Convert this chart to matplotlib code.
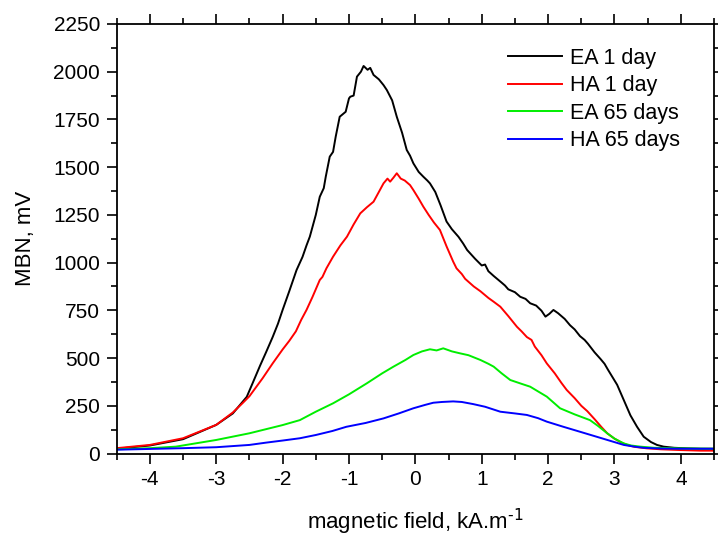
import matplotlib
matplotlib.use("Agg")
import matplotlib.pyplot as plt
from matplotlib.ticker import MultipleLocator

plt.rcParams['font.family'] = ['Liberation Sans', 'DejaVu Sans']
plt.rcParams['axes.unicode_minus'] = False

# EA 1 day
x_ea1 = [-4.5, -4.0, -3.5, -3.0, -2.75, -2.54, -2.45, -2.34, -2.25, -2.15, -2.07, -2.0,
         -1.9, -1.79, -1.7, -1.64, -1.59, -1.5, -1.44, -1.38, -1.35, -1.29, -1.24, -1.2,
         -1.14, -1.05, -1.0, -0.98, -0.93, -0.88, -0.82, -0.78, -0.72, -0.68, -0.63,
         -0.55, -0.48, -0.43, -0.35, -0.28, -0.2, -0.13, -0.08, -0.03, 0.05, 0.12, 0.18,
         0.22, 0.3, 0.38, 0.47, 0.55, 0.65, 0.72, 0.78, 0.9, 1.0, 1.05, 1.1, 1.18, 1.3,
         1.35, 1.4, 1.5, 1.58, 1.66, 1.73, 1.82, 1.9, 1.96, 2.02, 2.08, 2.15, 2.25, 2.33,
         2.4, 2.48, 2.55, 2.6, 2.7, 2.79, 2.85, 2.9, 3.04, 3.14, 3.24, 3.34, 3.44, 3.55,
         3.64, 3.74, 3.9, 4.1, 4.3, 4.5]
y_ea1 = [25, 42, 75, 150, 210, 297, 370, 460, 530, 610, 680, 752,
         850, 961, 1030, 1090, 1136, 1250, 1345, 1390, 1450, 1555, 1580, 1660,
         1764, 1790, 1860, 1869, 1875, 1974, 2000, 2030, 2010, 2020, 1983,
         1960, 1930, 1904, 1850, 1764, 1680, 1590, 1560, 1520, 1475, 1450, 1430,
         1415, 1370, 1300, 1215, 1175, 1135, 1100, 1066, 1020, 985, 990, 955, 930, 895,
         880, 860, 845, 821, 810, 787, 775, 748, 717, 732, 752, 735, 705, 672,
         650, 615, 595, 575, 530, 495, 470, 440, 360, 280, 200, 140, 88, 60,
         45, 36, 30, 27, 25, 25]

# HA 1 day
x_ha1 = [-4.5, -4.0, -3.5, -3.0, -2.75, -2.6, -2.5, -2.3, -2.15, -2.0, -1.9, -1.8,
         -1.72, -1.64, -1.55, -1.44, -1.4, -1.34, -1.24, -1.13, -1.03, -0.93, -0.83,
         -0.73, -0.63, -0.55, -0.48, -0.42, -0.38, -0.33, -0.28, -0.22, -0.16, -0.08,
         -0.03, 0.05, 0.12, 0.2, 0.28, 0.37, 0.47, 0.57, 0.62, 0.7, 0.75, 0.88, 0.98,
         1.1, 1.18, 1.28, 1.4, 1.53, 1.6, 1.68, 1.75, 1.8, 1.9, 1.98, 2.1, 2.2, 2.28,
         2.4, 2.5, 2.59, 2.7, 2.8, 2.89, 3.0, 3.1, 3.19, 3.3, 3.49, 3.7, 4.0, 4.3, 4.5]
y_ha1 = [28, 45, 80, 150, 215, 265, 300, 395, 472, 545, 590, 640,
         700, 752, 820, 909, 925, 970, 1031, 1090, 1136, 1200, 1258,
         1290, 1319, 1370, 1415, 1440, 1424, 1445, 1468, 1440, 1430, 1406,
         1380, 1335, 1293, 1250, 1210, 1171, 1085, 1005, 970, 940, 915, 875, 850,
         815, 795, 769, 720, 664, 640, 610, 595, 560, 515, 472, 420, 370, 333,
         290, 250, 222, 180, 140, 106, 78, 58, 45, 35, 27, 22, 18, 15, 15]

# EA 65 days
x_ea65 = [-4.5, -4.0, -3.61, -3.0, -2.5, -2.0, -1.74, -1.5, -1.24, -1.0, -0.73, -0.5,
          -0.33, -0.15, -0.03, 0.1, 0.22, 0.32, 0.42, 0.55, 0.67, 0.8, 0.98, 1.1, 1.18,
          1.3, 1.43, 1.6, 1.73, 1.85, 1.98, 2.18, 2.4, 2.63, 2.75, 2.89, 3.0, 3.14,
          3.25, 3.39, 3.6, 4.0, 4.5]
y_ea65 = [22, 28, 36, 71, 106, 149, 175, 219, 263, 310, 368, 420,
          455, 490, 516, 535, 546, 540, 551, 535, 525, 515, 490, 470, 455,
          420, 385, 365, 350, 325, 298, 237, 205, 175, 145, 106, 78, 53,
          42, 36, 30, 27, 25]

# HA 65 days
x_ha65 = [-4.5, -4.0, -3.5, -3.0, -2.5, -2.25, -2.0, -1.74, -1.5, -1.25, -1.04, -0.75,
          -0.48, -0.25, -0.03, 0.15, 0.27, 0.4, 0.57, 0.7, 0.87, 1.05, 1.28, 1.5, 1.68,
          1.85, 1.98, 2.23, 2.5, 2.73, 2.95, 3.14, 3.3, 3.44, 3.7, 4.0, 4.5]
y_ha65 = [20, 24, 28, 33, 45, 57, 68, 80, 97, 118, 140, 160,
          184, 210, 237, 255, 266, 270, 273, 270, 259, 245, 219, 210, 202,
          185, 167, 140, 112, 88, 65, 45, 36, 30, 26, 25, 25]

series = [
    (x_ea1, y_ea1, 'black', 'EA 1 day'),
    (x_ha1, y_ha1, '#ff0000', 'HA 1 day'),
    (x_ea65, y_ea65, '#00ee00', 'EA 65 days'),
    (x_ha65, y_ha65, '#0000ff', 'HA 65 days'),
]

fig = plt.figure(figsize=(7.18, 5.41), dpi=100)
ax = fig.add_axes([0.1625, 0.1617, 0.832, 0.794])

for xs, ys, col, lab in series:
    ax.plot(xs, ys, color=col, lw=1.4, label=lab)

ax.set_xlim(-4.5, 4.5)
ax.set_ylim(0, 2250)
ax.xaxis.set_major_locator(MultipleLocator(1))
ax.xaxis.set_minor_locator(MultipleLocator(0.5))
ax.yaxis.set_major_locator(MultipleLocator(250))
ax.yaxis.set_minor_locator(MultipleLocator(125))

ax.tick_params(which='both', direction='out', top=True, right=True,
               labeltop=False, labelright=False, width=1.2, labelsize=15)
ax.tick_params(which='major', length=7, pad=5)
ax.tick_params(which='minor', length=4)
for sp in ax.spines.values():
    sp.set_linewidth(1.3)

ax.set_xlabel(r'magnetic field, kA.m$^{\text{-1}}$', fontsize=16, labelpad=13)
ax.set_ylabel('MBN, mV', fontsize=16, labelpad=12)

ax.legend(loc='upper left', bbox_to_anchor=(0.655, 0.944), frameon=False,
          fontsize=15.5, borderpad=0, borderaxespad=0, handlelength=2.5,
          handletextpad=0.4, labelspacing=0.3)

fig.savefig('out.png', dpi=100)
